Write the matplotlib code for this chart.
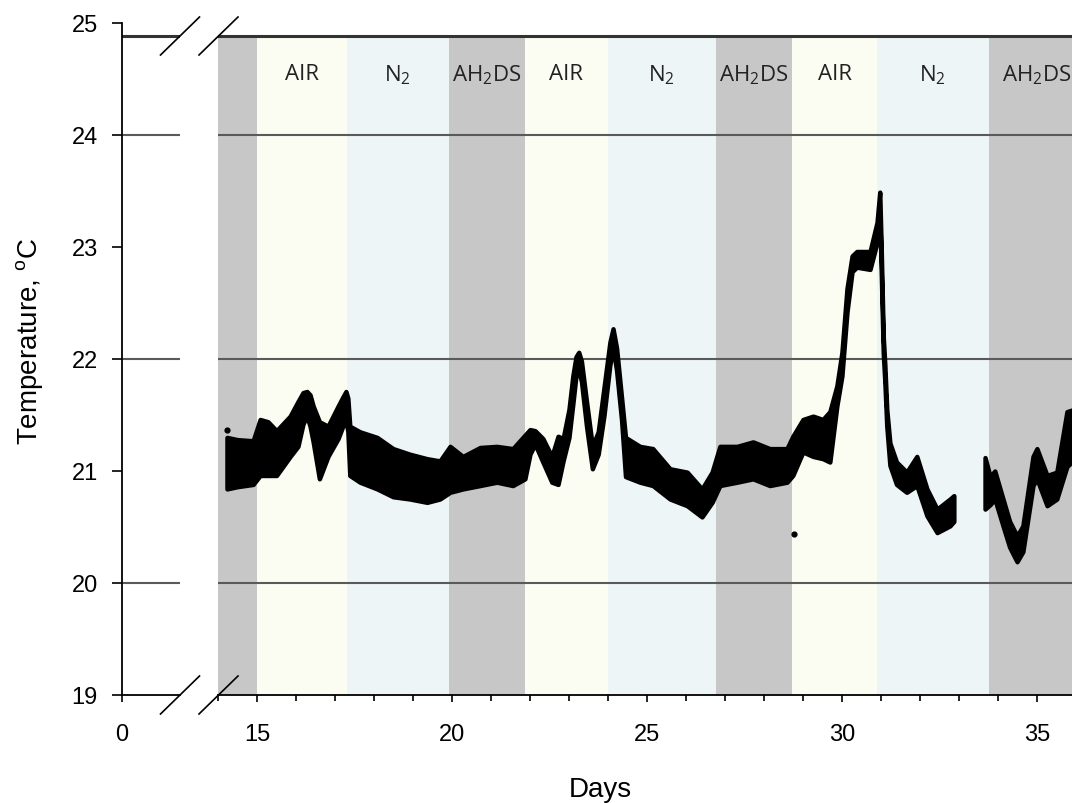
import matplotlib.pyplot as plt
from matplotlib.lines import Line2D

plt.rcParams['font.family'] = ['Liberation Sans', 'DejaVu Sans']
plt.rcParams['mathtext.default'] = 'regular'

# gas phases: edges in days and the gas of each interval
band_edges = [14.0, 15.0, 17.3, 19.92, 21.87, 23.99, 26.77, 28.72, 30.90, 33.77, 36.2]
band_gases = ['', 'AIR', 'N$_2$', 'AH$_2$DS', 'AIR', 'N$_2$', 'AH$_2$DS', 'AIR', 'N$_2$', 'AH$_2$DS']
gas_colors = {'': '#c6c7c6', 'AIR': '#fbfcf2', 'N$_2$': '#edf5f6', 'AH$_2$DS': '#c6c7c6'}

# temperature trace, upper and lower edge of the scatter cloud
run1_days = [14.23, 14.5, 14.9, 15.08, 15.28, 15.5, 15.85, 16.05, 16.18, 16.28, 16.36, 16.44,
             16.6, 16.82, 17.08, 17.2, 17.28, 17.33, 17.38, 17.64, 18.08, 18.49, 18.92, 19.36,
             19.69, 19.95, 20.28, 20.72, 21.15, 21.56, 21.87, 22.0, 22.13, 22.33, 22.56, 22.72,
             22.85, 23.0, 23.1, 23.18, 23.25, 23.32, 23.45, 23.6, 23.75, 23.9, 24.05, 24.13,
             24.22, 24.35, 24.45, 24.82, 25.15, 25.59, 26.03, 26.41, 26.67, 26.87, 27.31, 27.72,
             28.15, 28.59, 28.74, 29.0, 29.26, 29.51, 29.69, 29.87, 30.0, 30.13, 30.26, 30.38,
             30.72, 30.9, 30.97, 31.01, 31.06, 31.1, 31.15, 31.23, 31.4, 31.66, 31.92, 32.18,
             32.44, 32.77, 32.87]
run1_hi = [21.30, 21.28, 21.27, 21.46, 21.44, 21.36, 21.49, 21.62, 21.70, 21.71, 21.68, 21.58,
           21.44, 21.40, 21.58, 21.66, 21.71, 21.65, 21.40, 21.35, 21.30, 21.20, 21.15, 21.11,
           21.09, 21.22, 21.13, 21.21, 21.22, 21.20, 21.32, 21.37, 21.36, 21.29, 21.13, 21.31,
           21.29, 21.55, 21.85, 22.02, 22.06, 21.98, 21.62, 21.22, 21.35, 21.75, 22.15, 22.27,
           22.10, 21.65, 21.30, 21.22, 21.20, 21.02, 20.99, 20.84, 20.99, 21.22, 21.22, 21.26,
           21.20, 21.20, 21.31, 21.46, 21.49, 21.46, 21.53, 21.76, 22.06, 22.63, 22.92, 22.96,
           22.96, 23.22, 23.49, 22.95, 22.20, 21.95, 21.55, 21.25, 21.08, 20.99, 21.13, 20.84,
           20.66, 20.75, 20.78]
run1_lo = [20.84, 20.86, 20.88, 20.96, 20.96, 20.96, 21.13, 21.22, 21.42, 21.49, 21.40, 21.26,
           20.93, 21.13, 21.29, 21.40, 21.46, 21.35, 20.96, 20.90, 20.84, 20.77, 20.75, 20.72,
           20.75, 20.81, 20.84, 20.87, 20.90, 20.87, 20.93, 21.15, 21.24, 21.08, 20.90, 20.88,
           21.09, 21.30, 21.60, 21.85, 21.90, 21.80, 21.40, 21.02, 21.15, 21.50, 21.95, 22.10,
           21.90, 21.45, 20.95, 20.90, 20.87, 20.75, 20.69, 20.59, 20.72, 20.87, 20.90, 20.93,
           20.87, 20.90, 20.96, 21.17, 21.13, 21.11, 21.08, 21.58, 21.85, 22.42, 22.78, 22.82,
           22.80, 23.04, 23.31, 22.75, 22.05, 21.80, 21.40, 21.05, 20.88, 20.81, 20.87, 20.60,
           20.45, 20.51, 20.55]

run2_days = [33.67, 33.8, 33.92, 34.13, 34.3, 34.49, 34.64, 34.9, 35.0, 35.26, 35.51, 35.77, 35.95]
run2_hi = [21.12, 20.95, 21.00, 20.75, 20.55, 20.42, 20.51, 21.13, 21.20, 20.96, 20.99, 21.53, 21.55]
run2_lo = [20.66, 20.70, 20.75, 20.51, 20.32, 20.19, 20.28, 20.87, 20.93, 20.69, 20.75, 21.04, 21.10]

outlier_days = [14.23, 28.77]
outlier_temp = [21.37, 20.44]

y_ticks = [19, 20, 21, 22, 23, 24, 25]
grid_levels = [20, 22, 24]
top_level = 24.885

W, H = 1072, 804
fig = plt.figure(figsize=(W / 100, H / 100), dpi=100)
ax_l = fig.add_axes([122 / W, 108 / H, 58 / W, 672 / H])
ax_r = fig.add_axes([218 / W, 108 / H, 854 / W, 672 / H])

for ax in (ax_l, ax_r):
    ax.set_ylim(19, 25)
    ax.spines['top'].set_visible(False)
    ax.spines['right'].set_visible(False)
    ax.spines['bottom'].set_linewidth(1.3)
    for g in grid_levels:
        ax.axhline(g, color='#5a5a5a', lw=1.5, zorder=2)
    ax.axhline(top_level, color='#333333', lw=2.2, zorder=2)
    ax.tick_params(axis='both', direction='out', width=1.2, labelsize=17)

# left stub of the broken axis
ax_l.set_xlim(0, 58 / 39)
ax_l.set_xticks([0])
ax_l.set_yticks(y_ticks)
ax_l.spines['left'].set_linewidth(1.3)
ax_l.tick_params(axis='y', length=7.5, pad=10)
ax_l.tick_params(axis='x', length=5, pad=15)

# main panel
ax_r.set_xlim(14, 35.9)
ax_r.spines['left'].set_visible(False)
ax_r.set_yticks([])
ax_r.set_xticks([15, 20, 25, 30, 35])
ax_r.set_xticks(range(14, 36), minor=True)
ax_r.tick_params(axis='x', which='major', length=5, pad=15)
ax_r.tick_params(axis='x', which='minor', length=4.5, width=1.2)

band_top = (top_level - 19) / 6
for i, gas in enumerate(band_gases):
    x0, x1 = band_edges[i], band_edges[i + 1]
    ax_r.axvspan(x0, x1, ymin=0, ymax=band_top, color=gas_colors[gas], lw=0, zorder=0)
    if gas:
        ax_r.text((x0 + x1) / 2, 24.545, gas, ha='center', va='center', fontsize=16,
                  family=['Open Sans', 'DejaVu Sans'], color='#222222', zorder=3)

ax_r.fill_between(run1_days, run1_lo, run1_hi, color='black', lw=3.2, zorder=4)
ax_r.fill_between(run2_days, run2_lo, run2_hi, color='black', lw=3.2, zorder=4)
ax_r.scatter(outlier_days, outlier_temp, s=12, color='black', zorder=4)

# break marks
for yc in (108 / H, 767 / H):
    for xc in (180 / W, 218.5 / W):
        fig.add_artist(Line2D([xc - 19.5 / W, xc + 19.5 / W], [yc - 19 / H, yc + 19 / H],
                              transform=fig.transFigure, color='black', lw=1.2))

fig.text(30 / W, 1 - 342 / H, 'Temperature, $^{o}$C', rotation=90, ha='center', va='center',
         fontsize=20)
fig.text(600 / W, 1 - 790 / H, 'Days', ha='center', va='center', fontsize=20)

fig.savefig('out.png', dpi=100)
